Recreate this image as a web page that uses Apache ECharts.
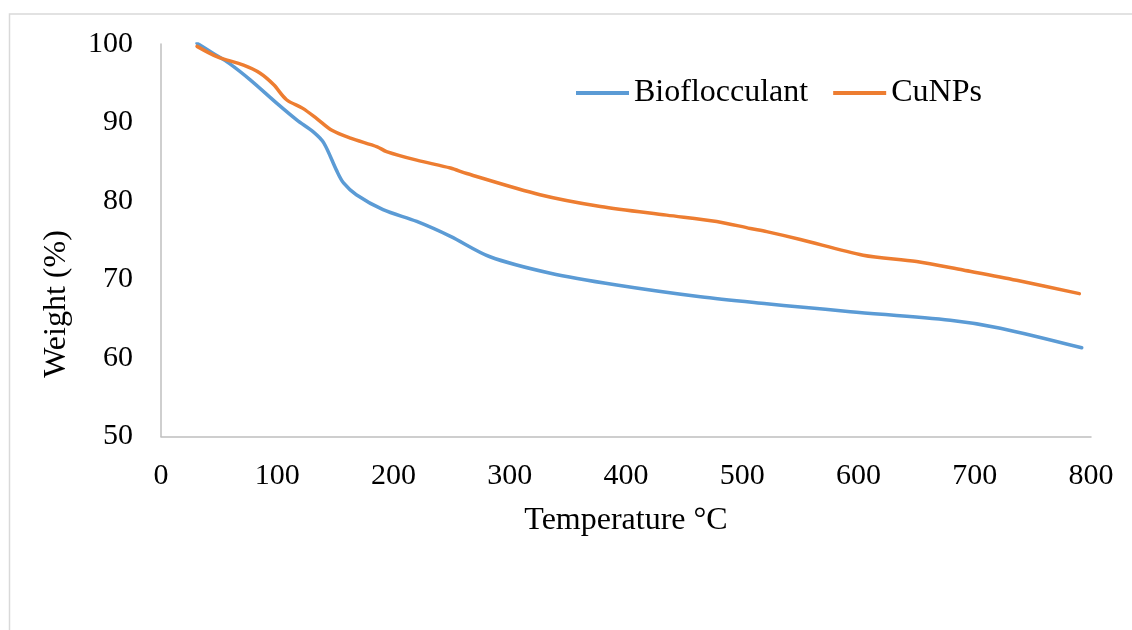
<!DOCTYPE html>
<html>
<head>
<meta charset="utf-8">
<script src="https://cdn.jsdelivr.net/npm/echarts@6/dist/echarts.min.js"></script>
<style>
html,body{margin:0;padding:0;background:#fff;}
#chart{width:1132px;height:630px;}
</style>
</head>
<body>
<div id="chart"></div>
<script>
const bioTemp   = [31, 45, 59, 77, 100, 117, 131, 140, 151, 157, 168, 191, 220, 249, 283, 335, 392, 464, 521, 550, 593, 679, 722, 792];
const bioWeight = [100.1, 98.8, 97.5, 95.4, 92.4, 90.3, 88.8, 87.4, 83.9, 82.3, 80.8, 78.9, 77.4, 75.5, 72.9, 70.8, 69.3, 67.8, 66.9, 66.5, 65.9, 64.8, 63.8, 61.3];
const cuTemp    = [31, 48, 71, 85, 97, 108, 122, 134, 147, 163, 186, 194, 220, 249, 263, 326, 378, 435, 478, 507, 521, 550, 604, 650, 690, 736, 790];
const cuWeight  = [99.7, 98.4, 97.3, 96.3, 94.8, 92.9, 91.8, 90.5, 89.0, 88.0, 86.9, 86.3, 85.2, 84.2, 83.5, 80.8, 79.3, 78.2, 77.4, 76.5, 76.1, 75.1, 73.1, 72.3, 71.2, 69.9, 68.2];
const seriesNames = ['Bioflocculant', 'CuNPs'];
const xTitle = 'Temperature \u00B0C';
const yTitle = 'Weight (%)';

const pair = (xs, ys) => xs.map((x, i) => [x, ys[i]]);
const font = '"Liberation Serif", "Times New Roman", serif';

const chart = echarts.init(document.getElementById('chart'));
chart.setOption({
  animation: false,
  backgroundColor: '#fff',
  grid: { left: 161, top: 44, right: 41, bottom: 193.5, containLabel: false },
  legend: {
    left: 576, top: 77, padding: 0,
    itemWidth: 53, itemHeight: 4, itemGap: 25,
    icon: 'rect',
    textStyle: { fontFamily: font, fontSize: 32, color: '#000' },
    data: seriesNames
  },
  xAxis: {
    type: 'value', min: 0, max: 800, interval: 100,
    axisLine: { show: true, lineStyle: { color: '#bfbfbf', width: 1.5 } },
    axisTick: { show: false },
    splitLine: { show: false },
    axisLabel: { fontFamily: font, fontSize: 30, color: '#000', margin: 25 }
  },
  yAxis: {
    type: 'value', min: 50, max: 100, interval: 10,
    axisLine: { show: true, lineStyle: { color: '#bfbfbf', width: 1.5 } },
    axisTick: { show: false },
    splitLine: { show: false },
    axisLabel: { fontFamily: font, fontSize: 30, color: '#000', margin: 28 }
  },
  graphic: [
    { type: 'rect', left: 7, top: 11.5, shape: { width: 1200, height: 700 }, style: { fill: 'none', stroke: '#d9d9d9', lineWidth: 1.5 }, silent: true },
    { type: 'text', x: 626, y: 521, style: { text: xTitle, font: '32px ' + font, fill: '#000', align: 'center', verticalAlign: 'middle' } },
    { type: 'text', x: 57, y: 304, rotation: Math.PI / 2, style: { text: yTitle, font: '32px ' + font, fill: '#000', align: 'center', verticalAlign: 'middle' } }
  ],
  series: [
    { name: seriesNames[0], type: 'line', data: pair(bioTemp, bioWeight), smooth: 0.3, showSymbol: false, lineStyle: { color: '#5B9BD5', width: 3.5, cap: 'round', join: 'round' }, itemStyle: { color: '#5B9BD5' } },
    { name: seriesNames[1], type: 'line', data: pair(cuTemp, cuWeight), smooth: 0.3, showSymbol: false, lineStyle: { color: '#ED7D31', width: 3.5, cap: 'round', join: 'round' }, itemStyle: { color: '#ED7D31' } }
  ]
});
</script>
</body>
</html>
